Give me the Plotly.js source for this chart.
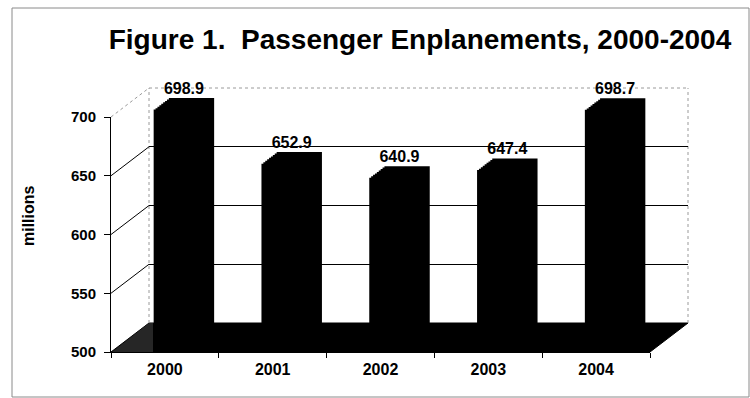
<!DOCTYPE html>
<html>
<head>
<meta charset="utf-8">
<script src="https://cdn.plot.ly/plotly-3.0.1.min.js"></script>
<style>html,body{margin:0;padding:0;background:#fff;}#chart{width:750px;height:398px;}</style>
</head>
<body>
<div id="chart"></div>
<script>
// ---- data ----
const years = ['2000', '2001', '2002', '2003', '2004'];
const enplanements = [698.9, 652.9, 640.9, 647.4, 698.7];
const yTicks = [500, 550, 600, 650, 700];
const backGrid = [550, 600, 650];

// ---- geometry (pixels) ----
const W = 750, H = 398;
const X = px => px / W;
const Y = py => 1 - py / H;
const FX0 = 111, FX1 = 650;      // front plane left/right
const FY0 = 352, FY1 = 117;      // front plane y of 500 / 700
const DX = 38, DY = 29;          // depth offset of back wall
const yMin = 500, yMax = 700;
const unitPx = (FY0 - FY1) / (yMax - yMin);
const xdom = d => [X(FX0 + DX * d), X(FX1 + DX * d)];
const ydom = d => [Y(FY0 - DY * d), Y(FY1 - DY * d)];

const FONT = 'Arial, "Liberation Sans", sans-serif';
const layers = [0.30, 0.35, 0.40, 0.45, 0.50, 0.55, 0.60, 0.65, 0.70];

const traces = [];
const layout = {
  width: W, height: H,
  margin: {l: 0, r: 0, t: 0, b: 0},
  paper_bgcolor: '#ffffff',
  plot_bgcolor: 'rgba(0,0,0,0)',
  showlegend: false,
  font: {family: FONT, color: '#000'},
  title: {
    text: 'Figure 1.  Passenger Enplanements, 2000-2004',
    font: {family: FONT, size: 28, weight: 'bold', color: '#000'},
    x: 0.56, xanchor: 'center', y: Y(39), yanchor: 'middle'
  },
  // back wall
  xaxis: {domain: xdom(1), type: 'category', range: [-0.5, 4.5], visible: false, anchor: 'y', fixedrange: true},
  yaxis: {domain: ydom(1), range: [yMin, yMax], tickvals: backGrid, showgrid: true, gridcolor: '#000', gridwidth: 1,
          showticklabels: false, ticks: '', showline: false, zeroline: false, anchor: 'x', fixedrange: true},
  // front axes
  xaxis2: {domain: xdom(0), type: 'category', range: [-0.5, 4.5], anchor: 'y2', tickson: 'boundaries',
           ticks: 'outside', ticklen: 5, tickcolor: '#000', showline: true, linecolor: '#000', linewidth: 1,
           showgrid: false, zeroline: false, tickfont: {family: FONT, size: 16, weight: 'bold', color: '#000'},
           ticklabelstandoff: 3, fixedrange: true},
  yaxis2: {domain: ydom(0), range: [yMin, yMax], tickvals: yTicks, anchor: 'x2', ticks: 'outside', ticklen: 6,
           tickcolor: '#000', showline: true, linecolor: '#000', linewidth: 1, showgrid: false, zeroline: false,
           tickfont: {family: FONT, size: 15, weight: 'bold', color: '#000'}, ticklabelstandoff: 5, fixedrange: true},
  shapes: [],
  annotations: [{
    text: 'millions', textangle: -90, showarrow: false,
    xref: 'paper', yref: 'paper', x: X(28), y: Y(216), xanchor: 'center', yanchor: 'middle',
    font: {family: FONT, size: 16, weight: 'bold', color: '#000'}
  }]
};

// helper traces so the wall and front axes are drawn
traces.push({type: 'scatter', x: years, y: enplanements, xaxis: 'x', yaxis: 'y', mode: 'none', hoverinfo: 'skip'});
traces.push({type: 'scatter', x: years, y: enplanements, xaxis: 'x2', yaxis: 'y2', mode: 'none', hoverinfo: 'skip'});

// extruded columns: stacked depth layers of the same bars
layers.forEach((d, i) => {
  const n = 3 + i;
  layout['xaxis' + n] = {domain: xdom(d), type: 'category', range: [-0.5, 4.5], visible: false, anchor: 'y' + n, fixedrange: true};
  layout['yaxis' + n] = {domain: ydom(d), range: [yMin, yMax], visible: false, anchor: 'x' + n, fixedrange: true};
  traces.push({
    type: 'bar', x: years, y: enplanements, xaxis: 'x' + n, yaxis: 'y' + n,
    width: 0.42, marker: {color: '#000', line: {width: 0}},
    hovertemplate: '%{x}: %{y:.1f} million<extra></extra>'
  });
});

// value labels (centre depth horizontally, back face vertically)
traces.push({
  type: 'scatter', x: years, y: enplanements, xaxis: 'x7', yaxis: 'y11',
  mode: 'text', text: enplanements.map(v => v.toFixed(1)), textposition: 'top center',
  textfont: {family: FONT, size: 16, weight: 'bold', color: '#000'}, cliponaxis: false, hoverinfo: 'skip'
});

// ---- frame shapes ----
const S = layout.shapes;
// outer chart border
S.push({type: 'rect', xref: 'paper', yref: 'paper', x0: X(12), x1: X(749), y0: Y(397), y1: Y(8),
        line: {color: '#8a8a8a', width: 1}, layer: 'below'});
// floor
S.push({type: 'path', xref: 'paper', yref: 'paper', layer: 'below', opacity: 1,
        path: `M${X(FX0)},${Y(FY0)} L${X(FX1)},${Y(FY0)} L${X(FX1 + DX)},${Y(FY0 - DY)} L${X(FX0 + DX)},${Y(FY0 - DY)} Z`,
        fillcolor: '#000000', line: {color: '#000', width: 1}});
S.push({type: 'path', xref: 'paper', yref: 'paper', layer: 'below', opacity: 1,
        path: `M${X(FX0 + 1)},${Y(FY0)} L${X(FX0 + DX)},${Y(FY0 - DY)} L${X(FX0 + DX + 4)},${Y(FY0 - DY)} L${X(FX0 + DX + 4)},${Y(FY0)} Z`,
        fillcolor: '#262626', line: {width: 0}});
// back wall dotted border
const dot = {color: '#9a9a9a', width: 1, dash: 'dot'};
S.push({type: 'line', xref: 'x domain', yref: 'y domain', x0: 0, x1: 0, y0: 0, y1: 1, line: dot, layer: 'below'});
S.push({type: 'line', xref: 'x domain', yref: 'y domain', x0: 1, x1: 1, y0: 0, y1: 1, line: dot, layer: 'below'});
S.push({type: 'line', xref: 'x domain', yref: 'y domain', x0: 0, x1: 1, y0: 1, y1: 1, line: dot, layer: 'below'});
// side wall top edge (700)
S.push({type: 'line', xref: 'paper', yref: 'paper', x0: X(FX0), y0: Y(FY1), x1: X(FX0 + DX), y1: Y(FY1 - DY), line: dot, layer: 'below'});
// side wall grid diagonals
backGrid.forEach(v => {
  S.push({type: 'line', xref: 'paper', yref: 'y2', x0: X(FX0), y0: v, x1: X(FX0 + DX), y1: v + DY / unitPx,
          line: {color: '#000', width: 1}, layer: 'below'});
});

Plotly.newPlot('chart', traces, layout, {displayModeBar: false, responsive: false});
</script>
</body>
</html>
